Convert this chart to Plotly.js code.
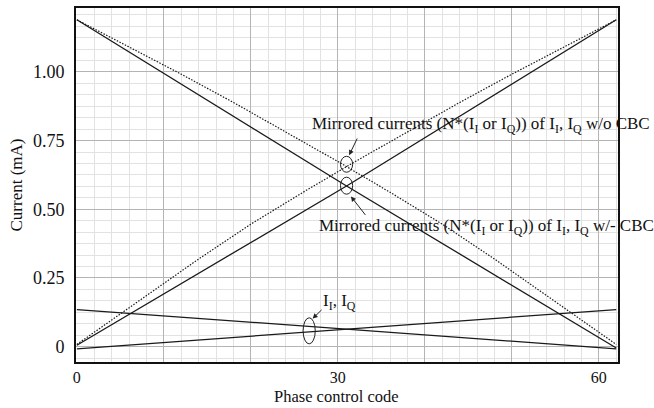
<!DOCTYPE html>
<html>
<head>
<meta charset="utf-8">
<script src="https://cdn.plot.ly/plotly-3.0.1.min.js"></script>
<style>html,body{margin:0;padding:0;background:#fff;}#chart{width:654px;height:408px;}</style>
</head>
<body>
<div id="chart"></div>
<script>
// Mirrored currents without CBC (dotted)
const woDownX = [0, 6, 12, 18, 24, 30, 36, 42, 48, 54, 60, 62];
const woDownY = [1.19, 1.092, 0.992, 0.889, 0.783, 0.674, 0.562, 0.446, 0.319, 0.186, 0.052, 0.008];
const woUpX = [0, 2, 8, 14, 20, 26, 32, 38, 44, 50, 56, 62];
const woUpY = [0.008, 0.052, 0.186, 0.319, 0.446, 0.562, 0.674, 0.783, 0.889, 0.992, 1.092, 1.19];
// Mirrored currents with CBC (solid)
const wDownX = [0, 31, 62];
const wDownY = [1.19, 0.585, -0.005];
const wUpX = [0, 31, 62];
const wUpY = [0.005, 0.585, 1.19];
// I_I, I_Q
const iDownX = [0, 62];
const iDownY = [0.135, -0.008];
const iUpX = [0, 62];
const iUpY = [-0.008, 0.135];

const xTickVals = [0, 10, 20, 30, 40, 50, 60];
const xTickText = ['0', '', '', '30', '', '', '60'];
const yTickVals = [0, 0.25, 0.5, 0.75, 1.0];
const yTickText = ['0', '0.25', '0.50', '0.75', '1.00'];

const xTitle = 'Phase control code';
const yTitle = 'Current (mA)';
const labelWo = 'Mirrored currents (N*(I<sub>I</sub> or I<sub>Q</sub>)) of I<sub>I</sub>, I<sub>Q</sub> w/o CBC';
const labelW = 'Mirrored currents (N*(I<sub>I</sub> or I<sub>Q</sub>)) of I<sub>I</sub>, I<sub>Q</sub> w/- CBC';
const labelI = 'I<sub>I</sub>, I<sub>Q</sub>';

const dotLine = {color: '#1a1a1a', width: 1.2, dash: '1.5px,1.5px'};
const solidLine = {color: '#1a1a1a', width: 1.3};

const traces = [
  {x: woDownX, y: woDownY, mode: 'lines', line: dotLine},
  {x: woUpX, y: woUpY, mode: 'lines', line: dotLine},
  {x: wDownX, y: wDownY, mode: 'lines', line: solidLine},
  {x: wUpX, y: wUpY, mode: 'lines', line: solidLine},
  {x: iDownX, y: iDownY, mode: 'lines', line: solidLine},
  {x: iUpX, y: iUpY, mode: 'lines', line: solidLine}
];

const serif = 'Liberation Serif, Times New Roman, serif';

const layout = {
  width: 654, height: 408,
  margin: {l: 76, r: 36, t: 8, b: 46},
  paper_bgcolor: '#fff', plot_bgcolor: '#fff',
  showlegend: false,
  font: {family: serif, size: 17, color: '#111'},
  xaxis: {
    range: [-0.1, 62.2],
    tickvals: xTickVals, ticktext: xTickText,
    showgrid: true, gridcolor: '#b4b4b4', gridwidth: 1,
    minor: {dtick: 2, tick0: 0, showgrid: true, gridcolor: '#e2e2e2', gridwidth: 1},
    zeroline: false,
    showline: true, mirror: true, linecolor: '#111', linewidth: 2,
    ticks: '', ticklabelstandoff: 0,
    tickfont: {family: serif, size: 16}
  },
  yaxis: {
    range: [-0.056, 1.233],
    tickvals: yTickVals, ticktext: yTickText,
    showgrid: true, gridcolor: '#b4b4b4', gridwidth: 1,
    minor: {dtick: 0.25/6, tick0: 0, showgrid: true, gridcolor: '#e2e2e2', gridwidth: 1},
    zeroline: false,
    showline: true, mirror: true, linecolor: '#111', linewidth: 2,
    ticks: '', ticklabelstandoff: 6,
    tickfont: {family: serif, size: 18},
    title: {text: yTitle, font: {family: serif, size: 17}, standoff: 6}
  },
  shapes: [
    {type: 'circle', xref: 'x', yref: 'y', x0: 30.3, x1: 31.7, y0: 0.635, y1: 0.693, line: {color: '#222', width: 1}},
    {type: 'circle', xref: 'x', yref: 'y', x0: 30.3, x1: 31.7, y0: 0.555, y1: 0.617, line: {color: '#222', width: 1}},
    {type: 'circle', xref: 'x', yref: 'y', x0: 26.0, x1: 27.4, y0: 0.01, y1: 0.105, line: {color: '#222', width: 1}}
  ],
  annotations: [
    {xref: 'paper', yref: 'paper', x: 0.48, y: -0.13, text: xTitle, showarrow: false, xanchor: 'center', yanchor: 'bottom', font: {family: serif, size: 16.5}},
    {xref: 'x', yref: 'y', x: 46.4, y: 0.807, text: labelWo, showarrow: false, xanchor: 'center', yanchor: 'middle', font: {family: serif, size: 17}},
    {xref: 'x', yref: 'y', x: 47.1, y: 0.434, text: labelW, showarrow: false, xanchor: 'center', yanchor: 'middle', font: {family: serif, size: 17}},
    {xref: 'x', yref: 'y', x: 30.2, y: 0.161, text: labelI, showarrow: false, xanchor: 'center', yanchor: 'middle', font: {family: serif, size: 17}},
    {xref: 'x', yref: 'y', x: 31.3, y: 0.697, axref: 'x', ayref: 'y', ax: 32.3, ay: 0.763, text: '', showarrow: true, arrowhead: 2, arrowsize: 1, arrowwidth: 1, arrowcolor: '#222'},
    {xref: 'x', yref: 'y', x: 31.5, y: 0.547, axref: 'x', ayref: 'y', ax: 33.3, ay: 0.474, text: '', showarrow: true, arrowhead: 2, arrowsize: 1, arrowwidth: 1, arrowcolor: '#222'},
    {xref: 'x', yref: 'y', x: 27.1, y: 0.102, axref: 'x', ayref: 'y', ax: 28.3, ay: 0.139, text: '', showarrow: true, arrowhead: 2, arrowsize: 1, arrowwidth: 1, arrowcolor: '#222'}
  ]
};

Plotly.newPlot('chart', traces, layout, {displayModeBar: false, staticPlot: true});
</script>
</body>
</html>
